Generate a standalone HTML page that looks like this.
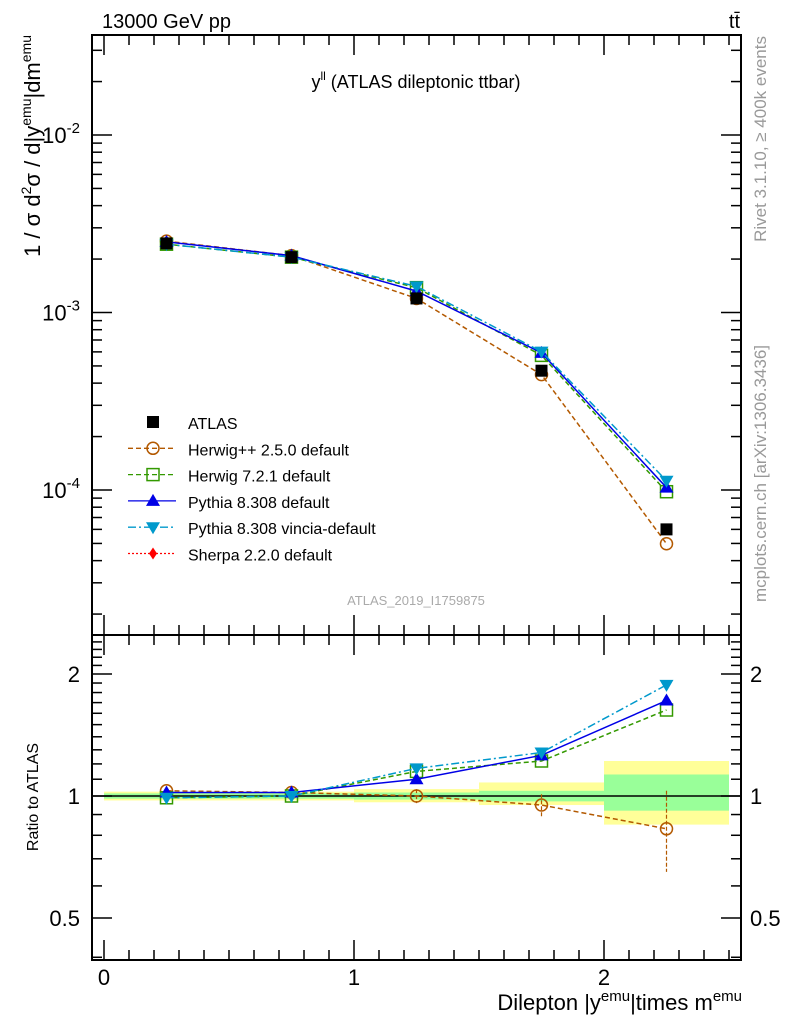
<!DOCTYPE html>
<html><head><meta charset="utf-8"><style>
body{margin:0;background:#fff;width:786px;height:1024px;overflow:hidden}
svg{display:block;font-family:"Liberation Sans",sans-serif}
</style></head><body>
<svg id="c" width="786" height="1024" viewBox="0 0 786 1024"></svg>
<script>
const xCenters=[0.25,0.75,1.25,1.75,2.25];
const binEdges=[0,0.5,1,1.5,2,2.5];
const atlas=[2.45e-3,2.05e-3,1.2e-3,4.7e-4,6.0e-5];
const rHerwigpp=[1.03,1.02,1.0,0.95,0.83];
const rHerwig7=[0.99,1.0,1.15,1.22,1.63];
const rPythia=[1.02,1.02,1.1,1.26,1.72];
const rVincia=[0.99,1.0,1.17,1.28,1.88];
const herwigppErrLo=[0.01,0.01,0.04,0.06,0.18];
const herwigppErrHi=[0.01,0.01,0.04,0.06,0.2];
const bandYellowLo=[0.975,0.975,0.965,0.95,0.85];
const bandYellowHi=[1.025,1.025,1.04,1.08,1.22];
const bandGreenLo=[0.985,0.985,0.98,0.97,0.92];
const bandGreenHi=[1.015,1.015,1.02,1.03,1.13];
const xTicks=[0,1,2];
const mainTicks=[-2,-3,-4];
const ratioTicks=[0.5,1,2];

const S=document.getElementById('c'),NS='http://www.w3.org/2000/svg';
function el(t,a,p){const e=document.createElementNS(NS,t);for(const k in a)e.setAttribute(k,a[k]);(p||S).appendChild(e);return e;}
const L=92,R=741,T=35,MB=635,RB=960;
const X=v=>L+(v+0.048)/2.596*(R-L);
const YM=v=>135-(Math.log10(v)+2)*177.5;
const YR=v=>796-Math.log2(v)*122;

for(let i=0;i<5;i++){
 let r=el('rect',{x:X(binEdges[i]),y:YR(bandYellowHi[i]),width:X(binEdges[i+1])-X(binEdges[i]),height:YR(bandYellowLo[i])-YR(bandYellowHi[i]),fill:'#ffff99'});
 
 r=el('rect',{x:X(binEdges[i]),y:YR(bandGreenHi[i]),width:X(binEdges[i+1])-X(binEdges[i]),height:YR(bandGreenLo[i])-YR(bandGreenHi[i]),fill:'#99ff99'});
 
}
el('line',{x1:L,x2:R,y1:YR(1),y2:YR(1),stroke:'#000','stroke-width':1.5});

el('rect',{x:L,y:T,width:R-L,height:MB-T,fill:'none',stroke:'#000','stroke-width':2});
el('rect',{x:L,y:MB,width:R-L,height:RB-MB,fill:'none',stroke:'#000','stroke-width':2});
for(let v=0;v<=2.5001;v+=0.1){const x=X(v),big=Math.abs(v-Math.round(v))<1e-6,len=big?20:10;
 [[T,1],[MB,-1],[MB,1],[RB,-1]].forEach(([y,d])=>el('line',{x1:x,x2:x,y1:y,y2:y+d*len,stroke:'#000','stroke-width':1.5}));}
xTicks.forEach(v=>{const t=el('text',{x:X(v),y:985,'font-size':22,'text-anchor':'middle'});t.textContent=v;
 });
for(let d=-5;d<=-1;d++)for(let m=1;m<10;m++){const v=m*Math.pow(10,d),y=YM(v);if(y<T||y>MB)continue;const len=m==1?20:10;
 el('line',{x1:L,x2:L+len,y1:y,y2:y,stroke:'#000','stroke-width':1.5});el('line',{x1:R,x2:R-len,y1:y,y2:y,stroke:'#000','stroke-width':1.5});}
mainTicks.forEach(d=>{const t=el('text',{x:80,y:YM(Math.pow(10,d))+8,'font-size':22,'text-anchor':'end'});
 t.innerHTML='10<tspan dy="-10" font-size="15">'+d+'</tspan>';});
for(let v=0.4;v<=2.5;v+=0.1){const y=YR(v);if(y<MB||y>RB)continue;const big=[0.5,1,2].some(k=>Math.abs(k-v)<1e-6);const len=big?20:10;
 el('line',{x1:L,x2:L+len,y1:y,y2:y,stroke:'#000','stroke-width':1.5});el('line',{x1:R,x2:R-len,y1:y,y2:y,stroke:'#000','stroke-width':1.5});}
ratioTicks.forEach(v=>{[[80,'end'],[750,'start']].forEach(([x,a])=>{const t=el('text',{x:x,y:YR(v)+8,'font-size':22,'text-anchor':a});t.textContent=v;
 });});

const series=[
 {n:'herwigpp',r:rHerwigpp,c:'#b35900',dash:'5,3',m:'circle'},
 {n:'herwig7',r:rHerwig7,c:'#339900',dash:'5,3',m:'square'},
 {n:'pythia',r:rPythia,c:'#0000e6',dash:'',m:'tri'},
 {n:'vincia',r:rVincia,c:'#0099cc',dash:'8,3,2,3',m:'dtri'}];
function marker(m,x,y,c,name){let e;
 if(m=='circle')e=el('circle',{cx:x,cy:y,r:6,fill:'none',stroke:c,'stroke-width':1.5});
 else if(m=='square')e=el('rect',{x:x-6,y:y-6,width:12,height:12,fill:'none',stroke:c,'stroke-width':1.5});
 else if(m=='tri')e=el('path',{d:`M${x},${y-7}L${x+7},${y+5}L${x-7},${y+5}Z`,fill:c});
 else if(m=='dtri')e=el('path',{d:`M${x},${y+7}L${x+7},${y-5}L${x-7},${y-5}Z`,fill:c});
 else if(m=='sq')e=el('rect',{x:x-6,y:y-6,width:12,height:12,fill:c});
 else if(m=='dia')e=el('path',{d:`M${x},${y-6}L${x+4},${y}L${x},${y+6}L${x-4},${y}Z`,fill:c});
 }
for(let i=0;i<5;i++){const x=X(xCenters[i]);el('line',{x1:x,x2:x,y1:YR(rHerwigpp[i]+herwigppErrHi[i]),y2:YR(rHerwigpp[i]-herwigppErrLo[i]),stroke:'#b35900','stroke-width':1.2,'stroke-dasharray':'4,2'});}
series.forEach(s=>{
 const pm=xCenters.map((x,i)=>X(x)+','+YM(atlas[i]*s.r[i])).join(' ');
 let p=el('polyline',{points:pm,fill:'none',stroke:s.c,'stroke-width':1.5,'stroke-dasharray':s.dash});
 
 const pr=xCenters.map((x,i)=>X(x)+','+YR(s.r[i])).join(' ');
 p=el('polyline',{points:pr,fill:'none',stroke:s.c,'stroke-width':1.5,'stroke-dasharray':s.dash});
 
 xCenters.forEach((x,i)=>{marker(s.m,X(x),YM(atlas[i]*s.r[i]),s.c,s.n+'-point');marker(s.m,X(x),YR(s.r[i]),s.c,s.n+'-ratio-point');});
});
xCenters.forEach((x,i)=>marker('sq',X(x),YM(atlas[i]),'#000','atlas-point'));

const leg=[['ATLAS','#000','','sq'],['Herwig++ 2.5.0 default','#b35900','5,3','circle'],['Herwig 7.2.1 default','#339900','5,3','square'],
 ['Pythia 8.308 default','#0000e6','','tri'],['Pythia 8.308 vincia-default','#0099cc','8,3,2,3','dtri'],['Sherpa 2.2.0 default','#ff0000','2,2','dia']];
leg.forEach((l,i)=>{const y=422+i*26.3;
 if(i>0){const ln=el('line',{x1:128,x2:176,y1:y,y2:y,stroke:l[1],'stroke-width':1.3,'stroke-dasharray':l[2]});}
 marker(l[3],153,y,l[1],'legend-marker');
 const t=el('text',{x:188,y:y+7,'font-size':16});t.textContent=l[0];});

function txt(x,y,s,html,attrs,name){const t=el('text',Object.assign({x:x,y:y},attrs));t.innerHTML=html;return t;}
txt(102,28,0,'13000 GeV pp',{'font-size':20},'energy-label');
txt(740,28,0,'t<tspan>t̄</tspan>',{'font-size':20,'text-anchor':'end'},'process-label');
txt(416,88,0,'y<tspan dy="-8" font-size="12">ll</tspan><tspan dy="8"> (ATLAS dileptonic ttbar)</tspan>',{'font-size':18,'text-anchor':'middle'},'plot-title');
txt(416,605,0,'ATLAS_2019_I1759875',{'font-size':13,'text-anchor':'middle',fill:'#aaa'},'analysis-id');
txt(742,1010,0,'Dilepton |y<tspan dy="-9" font-size="15">emu</tspan><tspan dy="9">|times m</tspan><tspan dy="-9" font-size="15">emu</tspan>',{'font-size':22,'text-anchor':'end'},'x-axis-title');
txt(0,0,0,'1 / σ d<tspan dy="-9" font-size="14">2</tspan><tspan dy="9">σ / d|y</tspan><tspan dy="-9" font-size="14">emu</tspan><tspan dy="9">|dm</tspan><tspan dy="-9" font-size="14">emu</tspan>',{'font-size':22,'text-anchor':'end',transform:'translate(40,35) rotate(-90)'},'y-axis-title');
txt(0,0,0,'Ratio to ATLAS',{'font-size':16,'text-anchor':'middle',transform:'translate(38,797) rotate(-90)'},'ratio-axis-title');
txt(0,0,0,'Rivet 3.1.10, ≥ 400k events',{'font-size':17,'text-anchor':'end',fill:'#999',transform:'translate(766,36) rotate(-90)'},'rivet-label');
txt(0,0,0,'mcplots.cern.ch [arXiv:1306.3436]',{'font-size':17,'text-anchor':'end',fill:'#999',transform:'translate(766,345) rotate(-90)'},'mcplots-label');
</script>
</body></html>
